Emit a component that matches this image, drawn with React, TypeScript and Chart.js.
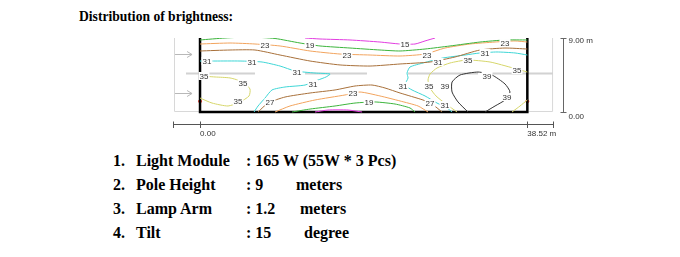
import React, { useEffect, useRef } from "react";
import { Chart, registerables } from "chart.js";

Chart.register(...registerables);

// ---------------- data ----------------
const ROAD_LENGTH = 38.52;
const ROAD_WIDTH = 9;
const X_MIN = -3.18;
const X_MAX = 41.54;
const Y_MIN = -1.46;
const Y_MAX = 9;
const X_AXIS_TICKS = [X_MIN, 0, 38.52, X_MAX];
const X_AXIS_LABELS = ["", "0.00", "38.52 m", ""];
const Y_AXIS_TICKS = [0, 9];
const Y_AXIS_LABELS = ["0.00", "9.00 m"];
const Y_AXIS_AT = 42.72;
const SURROUND_X = [-3.06, 41.43];
const SURROUND_BOTTOM = 0.12;
const MEDIAN_Y = 4.68;
const MEDIAN_SEGMENTS: [number, number][] = [[-1.65, 6.47], [12.36, 19.65], [24.48, 32.72], [34.13, 41.54]];
const ARROW_Y = [7.05, 2.31];
const ARROW_X = [-2.94, -0.94];
const LUMINAIRE_X = [0, 38.52];
const LUMINAIRE_Y = [1.3, 1.3];

const LEVEL_COLORS: Record<number, string> = {
  15: "#e23ce0",
  19: "#3cb43c",
  23: "#f2a45e",
  27: "#a8703a",
  31: "#3ed6d6",
  35: "#d6d66a",
  39: "#333333",
};

type P = [number, number];
const C15_TOP: P[] = [[12.36, 9], [14.12, 8.88], [17.65, 8.76], [21.18, 8.51], [23.54, 8.27], [25.3, 8.27], [26.48, 8.64], [27.66, 9]];
const C15_BOTTOM: P[] = [[13.53, 0], [15.06, 0.24], [17.42, 0.24], [19.07, 0]];
const C19_TOP: P[] = [[0, 8.76], [2.94, 9.0], [5.88, 9.12], [8.83, 8.94], [11.77, 8.39], [14.12, 8.03], [17.65, 7.78], [21.18, 7.54], [23.54, 7.42], [26.48, 7.66], [29.42, 8.03], [32.95, 8.51], [35.89, 8.76], [38.52, 8.76]];
const C19_BOTTOM: P[] = [[10.83, 0], [12.95, 0.36], [15.89, 0.73], [18.24, 1.09], [20.6, 1.22], [22.95, 0.97], [24.71, 0.49], [25.3, 0]];
const C23_TOP: P[] = [[0, 8.27], [3.53, 8.39], [6.47, 8.27], [9.42, 8.03], [12.95, 7.42], [16.48, 7.05], [20.01, 6.93], [23.54, 6.81], [26.48, 7.05], [28.83, 7.78], [31.78, 8.27], [34.72, 8.51], [37.07, 8.64], [38.52, 8.51]];
const C23_BOTTOM: P[] = [[8.83, 0], [10.59, 0.73], [13.53, 1.46], [17.06, 2.07], [18.83, 2.43], [21.18, 1.95], [23.54, 1.34], [25.66, 0.73], [26.83, 0]];
const C27_TOP: P[] = [[0, 7.42], [3.53, 7.54], [6.47, 7.54], [9.42, 6.93], [12.95, 6.2], [16.48, 5.72], [20.01, 5.59], [23.54, 5.84], [27.07, 6.08], [30.01, 6.69], [32.95, 7.54], [35.89, 7.78], [38.52, 7.66]];
const C27_BOTTOM: P[] = [[6.83, 0], [8.0, 1.09], [10.0, 1.82], [12.95, 2.31], [15.89, 2.68], [18.24, 3.16], [20.24, 3.28], [21.77, 2.92], [23.54, 2.31], [26.24, 1.46], [27.3, 0.97], [28.48, 0]];
const C31_LEFT: P[] = [[0, 6.2], [1.77, 6.2], [4.71, 6.2], [7.3, 6.08], [9.42, 5.59], [11.18, 4.99], [13.53, 4.74], [15.3, 4.62], [14.83, 4.26], [13.89, 3.89], [12.36, 3.28], [10.0, 3.04], [8.47, 2.68], [7.65, 1.7], [6.83, 0.73], [6.36, 0]];
const C31_RIGHT: P[] = [[38.52, 6.93], [37.07, 7.18], [34.95, 7.3], [32.95, 7.18], [31.19, 6.93], [28.6, 6.57], [26.24, 5.96], [24.71, 5.47], [24.36, 4.74], [24.48, 4.14], [24.13, 3.28], [24.95, 2.68], [26.48, 1.95], [27.89, 1.09], [29.07, 0.49], [29.66, 0]];
const C35_LEFT: P[] = [[0, 4.38], [1.77, 4.26], [3.53, 4.14], [5.06, 3.65], [5.88, 2.8], [5.77, 1.95], [4.71, 1.22], [3.3, 0.73], [1.41, 1.09], [0, 1.7]];
const C35_RIGHT: P[] = [[38.52, 4.86], [36.84, 5.35], [34.13, 6.08], [31.42, 6.32], [29.42, 5.96], [27.89, 5.35], [27.07, 4.62], [26.83, 3.89], [27.07, 2.92], [27.77, 1.95], [28.95, 0.97], [30.25, 0]];
const C35_CORNER: P[] = [[38.52, 1.46], [37.66, 0.73], [36.72, 0]];
const C39: P[] = [[31.54, 0], [30.36, 1.22], [29.66, 2.43], [29.66, 3.65], [30.6, 4.5], [32.72, 4.86], [34.36, 4.5], [35.89, 3.41], [36.48, 2.43], [35.89, 1.46], [34.72, 0.73], [33.54, 0]];

const CONTOURS: { level: number; points: P[] }[] = [
  { level: 15, points: C15_TOP }, { level: 15, points: C15_BOTTOM },
  { level: 19, points: C19_TOP }, { level: 19, points: C19_BOTTOM },
  { level: 23, points: C23_TOP }, { level: 23, points: C23_BOTTOM },
  { level: 27, points: C27_TOP }, { level: 27, points: C27_BOTTOM },
  { level: 31, points: C31_LEFT }, { level: 31, points: C31_RIGHT },
  { level: 35, points: C35_LEFT }, { level: 35, points: C35_RIGHT }, { level: 35, points: C35_CORNER },
  { level: 39, points: C39 },
];

const LABEL_VALUES = [23, 19, 23, 15, 23, 31, 31, 35, 23, 35, 31, 31, 35, 35, 35, 27, 31, 31, 23, 19, 31, 35, 39, 39, 39, 27, 31];
const LABEL_X = [7.65, 12.95, 17.3, 24.13, 26.72, 28.01, 33.54, 31.54, 35.89, 37.31, 0.82, 6.12, 0.47, 5.06, 4.47, 8.24, 13.3, 11.42, 18.01, 19.89, 23.89, 26.95, 28.83, 33.78, 36.13, 27.07, 28.83];
const LABEL_Y = [8.15, 8.15, 6.93, 8.27, 6.93, 6.08, 7.18, 6.32, 8.39, 5.11, 6.2, 6.08, 4.38, 3.53, 1.34, 1.22, 3.41, 4.86, 2.31, 1.22, 3.16, 3.16, 3.16, 4.38, 1.82, 1.09, 0.85];

const SPEC_NUMBERS = ["1.", "2.", "3.", "4."];
const SPEC_NAMES = ["Light Module", "Pole Height", "Lamp Arm", "Tilt"];
const SPEC_VALUES = [": 165 W (55W * 3 Pcs)", ": 9", ": 1.2", ": 15"];
const SPEC_UNITS = ["", "meters", "meters", "degree"];
const SPEC_UNIT_LEFT = [0, 296, 300, 304];

const SMALL_FONT = '8px "Liberation Sans", Arial, sans-serif';

const decorPlugin = {
  id: "decor",
  beforeDatasetsDraw(chart: any) {
    const { ctx, scales } = chart;
    const xs = scales.x, ys = scales.y;
    const X = (v: number) => xs.getPixelForValue(v);
    const Y = (v: number) => ys.getPixelForValue(v);
    ctx.save();
    // surrounding light frame
    ctx.strokeStyle = "#d8d8d8";
    ctx.lineWidth = 1;
    ctx.beginPath();
    ctx.moveTo(X(SURROUND_X[0]) + 0.5, Y(ROAD_WIDTH));
    ctx.lineTo(X(SURROUND_X[0]) + 0.5, Y(SURROUND_BOTTOM) + 0.5);
    ctx.lineTo(X(SURROUND_X[1]) + 0.5, Y(SURROUND_BOTTOM) + 0.5);
    ctx.lineTo(X(SURROUND_X[1]) + 0.5, Y(ROAD_WIDTH));
    ctx.stroke();
    // median segments
    ctx.strokeStyle = "#d2d2d2";
    ctx.lineWidth = 2;
    ctx.beginPath();
    MEDIAN_SEGMENTS.forEach(([a, b]) => {
      ctx.moveTo(X(a), Y(MEDIAN_Y));
      ctx.lineTo(X(b), Y(MEDIAN_Y));
    });
    ctx.stroke();
    // arrows
    ctx.strokeStyle = "#b8b8b8";
    ctx.lineWidth = 1;
    ARROW_Y.forEach((ay) => {
      const y = Math.round(Y(ay)) + 0.5;
      const x0 = X(ARROW_X[0]);
      const x1 = X(ARROW_X[1]);
      ctx.beginPath();
      ctx.moveTo(x0, y);
      ctx.lineTo(x1, y);
      ctx.moveTo(x1 - 5, y - 3);
      ctx.lineTo(x1, y);
      ctx.lineTo(x1 - 5, y + 3);
      ctx.stroke();
    });
    ctx.restore();
  },
  afterDatasetsDraw(chart: any) {
    const { ctx, scales } = chart;
    const X = (v: number) => scales.x.getPixelForValue(v);
    const Y = (v: number) => scales.y.getPixelForValue(v);
    ctx.save();
    ctx.font = SMALL_FONT;
    ctx.textAlign = "center";
    ctx.textBaseline = "middle";
    LABEL_VALUES.forEach((v, i) => {
      const px = X(LABEL_X[i]);
      const py = Y(LABEL_Y[i]);
      const t = String(v);
      const w = ctx.measureText(t).width;
      ctx.fillStyle = "#ffffff";
      ctx.fillRect(px - w / 2 - 1, py - 4, w + 2, 8);
      ctx.fillStyle = "#333333";
      ctx.fillText(t, px, py + 0.5);
    });
    ctx.restore();
  },
  afterDraw(chart: any) {
    const { ctx, scales } = chart;
    const X = (v: number) => scales.x.getPixelForValue(v);
    const Y = (v: number) => scales.y.getPixelForValue(v);
    ctx.save();
    ctx.strokeStyle = "#555555";
    ctx.lineWidth = 1;
    // upward halves of the bottom-axis tick marks
    const by = Math.round(Y(Y_MIN)) + 0.5;
    ctx.beginPath();
    X_AXIS_TICKS.forEach((t) => {
      const x = Math.round(X(t)) + 0.5;
      ctx.moveTo(x, by - 3);
      ctx.lineTo(x, by);
    });
    ctx.stroke();
    // right-hand scale
    const ax = Math.round(X(Y_AXIS_AT)) + 0.5;
    ctx.strokeStyle = "#666666";
    ctx.beginPath();
    ctx.moveTo(ax, Y(Y_AXIS_TICKS[1]));
    ctx.lineTo(ax, Y(Y_AXIS_TICKS[0]));
    Y_AXIS_TICKS.forEach((t) => {
      const y = Math.round(Y(t)) + 0.5;
      ctx.moveTo(ax - 3, y);
      ctx.lineTo(ax + 3, y);
    });
    ctx.stroke();
    ctx.font = SMALL_FONT;
    ctx.fillStyle = "#333333";
    ctx.textAlign = "left";
    ctx.textBaseline = "middle";
    ctx.fillText(Y_AXIS_LABELS[1], ax + 5, Y(Y_AXIS_TICKS[1]) + 3);
    ctx.fillText(Y_AXIS_LABELS[0], ax + 5, Y(Y_AXIS_TICKS[0]) + 5);
    ctx.restore();
  },
};

function ContourChart() {
  const ref = useRef<HTMLCanvasElement | null>(null);
  useEffect(() => {
    if (!ref.current) return;
    const datasets: any[] = CONTOURS.map((c) => ({
      data: c.points.map(([x, y]) => ({ x, y })),
      borderColor: LEVEL_COLORS[c.level],
      backgroundColor: LEVEL_COLORS[c.level],
      borderWidth: 1,
      showLine: true,
      pointRadius: 0,
      tension: 0.2,
    }));
    datasets.push({
      data: [
        { x: 0, y: ROAD_WIDTH },
        { x: 0, y: 0 },
        { x: ROAD_LENGTH, y: 0 },
        { x: ROAD_LENGTH, y: ROAD_WIDTH },
      ],
      borderColor: "#000000",
      borderWidth: 2.5,
      showLine: true,
      pointRadius: 0,
      tension: 0,
    });
    datasets.push({
      data: LUMINAIRE_X.map((x, i) => ({ x, y: LUMINAIRE_Y[i] })),
      backgroundColor: "#f04030",
      borderColor: "#f04030",
      pointRadius: 1.5,
      showLine: false,
    });
    const chart = new Chart(ref.current, {
      type: "scatter",
      data: { datasets },
      options: {
        animation: false,
        responsive: false,
        devicePixelRatio: 1,
        layout: { padding: { left: 10, top: 10, right: 47, bottom: 0 } },
        plugins: { legend: { display: false }, tooltip: { enabled: false } },
        scales: {
          x: {
            type: "linear",
            min: X_MIN,
            max: X_MAX,
            afterBuildTicks: (s: any) => {
              s.ticks = X_AXIS_TICKS.map((value) => ({ value }));
            },
            afterFit: (s: any) => {
              s.height = 24;
            },
            ticks: {
              autoSkip: false,
              maxRotation: 0,
              minRotation: 0,
              align: "start",
              padding: 1,
              color: "#333333",
              font: { family: '"Liberation Sans", Arial, sans-serif', size: 8 },
              callback: (_v: any, i: number) => X_AXIS_LABELS[i],
            },
            grid: { drawOnChartArea: false, tickLength: 4, color: "#555555" },
            border: { color: "#555555", width: 1 },
          },
          y: { type: "linear", min: Y_MIN, max: Y_MAX, display: false },
        },
      },
      plugins: [decorPlugin],
    } as any);
    return () => chart.destroy();
  }, []);
  return (
    <canvas
      ref={ref}
      width={437}
      height={120}
      style={{ position: "absolute", left: 163, top: 28, width: 437, height: 120 }}
    />
  );
}

export default function App() {
  const serif = '"Liberation Serif", "Times New Roman", serif';
  return (
    <div style={{ position: "absolute", left: 0, top: 0, width: 680, height: 257, background: "#ffffff", fontFamily: serif, color: "#000" }}>
      <div style={{ position: "absolute", left: 79, top: 9, fontSize: 13.6, lineHeight: "16px", fontWeight: "bold", whiteSpace: "nowrap" }}>
        Distribution of brightness:
      </div>
      <ContourChart />
      {SPEC_NAMES.map((name, i) => (
        <div key={i} style={{ position: "absolute", left: 0, top: 149 + i * 24, height: 24, width: 680, fontSize: 16, lineHeight: "24px", fontWeight: "bold", whiteSpace: "nowrap" }}>
          <span style={{ position: "absolute", left: 113 }}>{SPEC_NUMBERS[i]}</span>
          <span style={{ position: "absolute", left: 136 }}>{name}</span>
          <span style={{ position: "absolute", left: 246 }}>{SPEC_VALUES[i]}</span>
          {SPEC_UNITS[i] ? <span style={{ position: "absolute", left: SPEC_UNIT_LEFT[i] }}>{SPEC_UNITS[i]}</span> : null}
        </div>
      ))}
    </div>
  );
}
